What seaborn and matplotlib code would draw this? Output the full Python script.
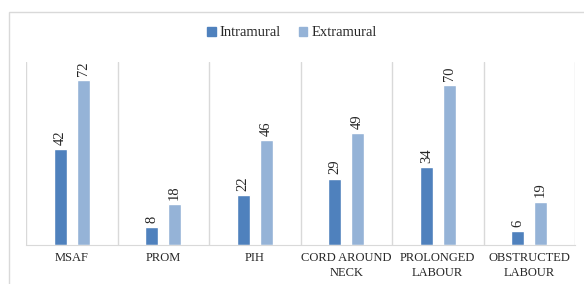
import seaborn as sns
import matplotlib.pyplot as plt
import matplotlib.patches as mpatches
import pandas as pd

categories = ["MSAF", "PROM", "PIH", "CORD AROUND\nNECK", "PROLONGED\nLABOUR", "OBSTRUCTED\nLABOUR"]
intramural = [42, 8, 22, 29, 34, 6]
extramural = [72, 18, 46, 49, 70, 19]
series = ["Intramural", "Extramural"]
colors = ["#4F81BD", "#95B3D7"]

df = pd.DataFrame({
    "Category": categories * 2,
    "Value": intramural + extramural,
    "Group": [series[0]] * len(categories) + [series[1]] * len(categories),
})

sns.set_style("white")
plt.rcParams["font.family"] = ["Liberation Serif", "DejaVu Serif"]

fig = plt.figure(figsize=(5.84, 2.84), dpi=100)
ax = fig.add_axes([26 / 584, 1 - 245 / 284, 549 / 584, 183 / 284])

# outer chart border
fig.patches.append(mpatches.Rectangle((9 / 584, -0.1), 1.2, 1 - 12 / 284 + 0.1,
                                      transform=fig.transFigure, fill=False,
                                      edgecolor="#D9D9D9", linewidth=1, zorder=0))

sns.barplot(data=df, x="Category", y="Value", hue="Group", palette=colors,
            saturation=1, width=0.5, gap=0.44, ax=ax, legend=False)

for c in ax.containers:
    ax.bar_label(c, rotation=90, padding=3, fontsize=10.5, color="#262626")

ax.set_ylim(0, 80)
ax.set_xlim(-0.5, len(categories) - 0.5)
ax.set_yticks([])
ax.set_xlabel("")
ax.set_ylabel("")
ax.set_xticks(range(len(categories)))
ax.set_xticklabels(categories, fontsize=9, color="#262626", linespacing=1.3)
ax.tick_params(axis="x", length=0, pad=5)
ax.set_xticks([i - 0.5 for i in range(len(categories) + 1)], minor=True)
ax.tick_params(axis="x", which="minor", length=0)
ax.grid(axis="x", which="minor", color="#D9D9D9", linewidth=1)
ax.grid(axis="x", which="major", visible=False)
ax.set_axisbelow(True)
for s in ["top", "left", "right"]:
    ax.spines[s].set_visible(False)
ax.spines["bottom"].set_color("#D9D9D9")

handles = [mpatches.Patch(color=col, label=lab) for col, lab in zip(colors, series)]
fig.legend(handles=handles, loc="center", bbox_to_anchor=(0.5, 1 - 33 / 284), ncol=2,
           frameon=False, fontsize=10.5, handlelength=0.6, handleheight=0.6,
           handletextpad=0.3, columnspacing=1.2)

fig.savefig("out.png", dpi=100)
plt.close()
